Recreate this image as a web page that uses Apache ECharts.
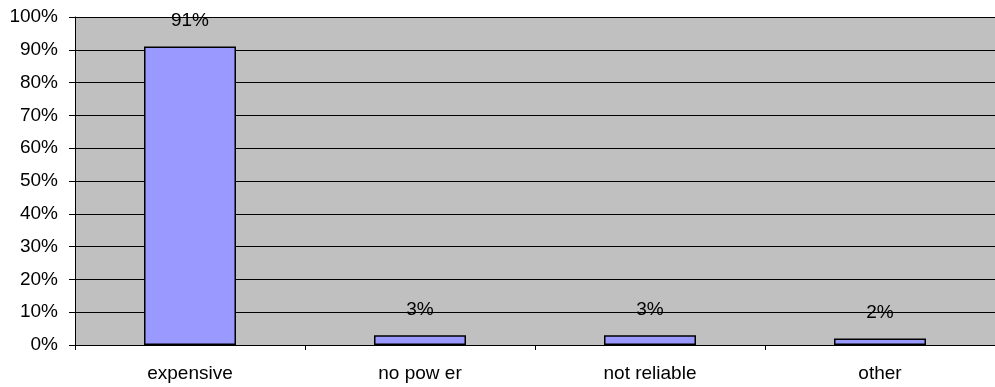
<!DOCTYPE html>
<html>
<head>
<meta charset="utf-8">
<script src="https://cdn.jsdelivr.net/npm/echarts@6/dist/echarts.min.js"></script>
<style>
  html, body { margin: 0; padding: 0; background: #fff; }
  #chart { width: 995px; height: 387px; }
</style>
</head>
<body>
<div id="chart"></div>
<script>
// Reasons given, share of responses (%)
const categories = ['expensive', 'no pow er', 'not reliable', 'other'];
const shares = [91, 3, 3, 2];
const yTicks = [0, 10, 20, 30, 40, 50, 60, 70, 80, 90, 100];

const chart = echarts.init(document.getElementById('chart'));
const font = 'Liberation Sans, Arial, sans-serif';

chart.setOption({
  animation: false,
  grid: { left: 75, right: 0, top: 17, bottom: 42, backgroundColor: '#C0C0C0', show: true, borderWidth: 0 },
  xAxis: {
    type: 'category',
    data: categories,
    axisLine: { lineStyle: { color: '#000', width: 1 } },
    axisTick: { show: true, length: 5, alignWithLabel: false, lineStyle: { color: '#000' } },
    axisLabel: { color: '#000', fontSize: 19, fontFamily: font, margin: 19 },
    splitLine: { show: false }
  },
  yAxis: {
    type: 'value',
    min: yTicks[0],
    max: yTicks[yTicks.length - 1],
    interval: 10,
    axisLine: { show: true, lineStyle: { color: '#000', width: 1 } },
    axisTick: { show: true, length: 6, lineStyle: { color: '#000' } },
    axisLabel: { color: '#000', fontSize: 19, fontFamily: font, margin: 17, formatter: v => v + '%' },
    splitLine: { show: true, lineStyle: { color: '#000', width: 1 } }
  },
  series: [{
    type: 'bar',
    data: shares,
    barWidth: '40%',
    itemStyle: { color: '#9999FF', borderColor: '#000', borderWidth: 1.5 },
    label: {
      show: true,
      position: 'top',
      distance: 16,
      color: '#000',
      fontSize: 19,
      fontFamily: font,
      formatter: p => p.value + '%'
    }
  }]
});
</script>
</body>
</html>
